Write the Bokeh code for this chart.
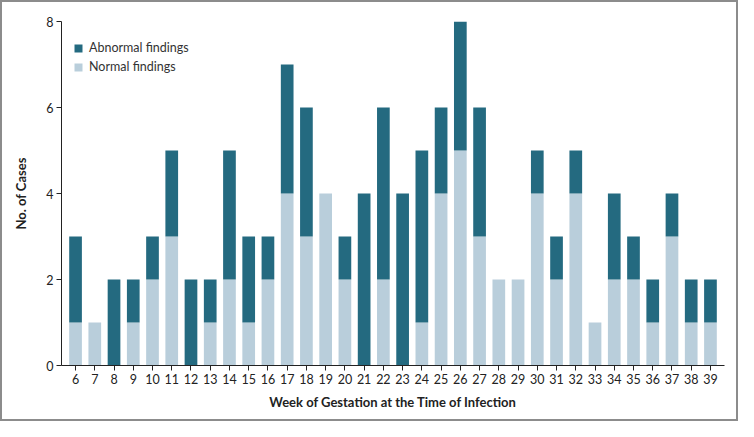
from bokeh.plotting import figure
from bokeh.models import Range1d, FixedTicker, Legend, LegendItem, ColumnDataSource
from bokeh.embed import file_html
from bokeh.resources import INLINE

weeks = list(range(6, 40))
normal = [1, 1, 0, 1, 2, 3, 0, 1, 2, 1, 2, 4, 3, 4, 2, 0, 2, 0, 1, 4, 5, 3, 2, 2, 4, 2, 4, 1, 2, 2, 1, 3, 1, 1]
abnormal = [2, 0, 2, 1, 1, 2, 2, 1, 3, 2, 1, 3, 3, 0, 1, 4, 4, 4, 4, 2, 3, 3, 0, 0, 1, 1, 1, 0, 2, 1, 1, 1, 1, 1]
y_ticks = [0, 2, 4, 6, 8]
series_names = ["Normal findings", "Abnormal findings"]

DARK = "#246a80"
LIGHT = "#b9cedb"
FONT = "Lato"

src = ColumnDataSource(dict(week=weeks, normal=normal, abnormal=abnormal))

p = figure(width=738, height=421, output_backend="svg", toolbar_location=None,
           x_range=Range1d(5.27, 39.73), y_range=Range1d(0, 8),
           min_border_left=59, min_border_right=16, min_border_top=19, min_border_bottom=58)
p.styles = {"border": "2px solid #8c8c8c", "box-sizing": "border-box"}

rs = p.vbar_stack(["normal", "abnormal"], x="week", width=0.66, source=src,
                  color=[LIGHT, DARK], line_color=None)

p.outline_line_color = None
p.xgrid.grid_line_color = None
p.ygrid.grid_line_color = None

p.xaxis.ticker = FixedTicker(ticks=weeks)
p.yaxis.ticker = FixedTicker(ticks=y_ticks)
p.xaxis.minor_tick_line_color = None
p.yaxis.minor_tick_line_color = None
for ax in (p.xaxis, p.yaxis):
    ax.axis_line_color = "#222222"
    ax.major_tick_line_color = "#222222"
    ax.major_tick_out = 5
    ax.major_tick_in = 0
    ax.major_label_text_font = FONT
    ax.major_label_text_font_size = "12.5px"
    ax.major_label_text_color = "#222222"
    ax.axis_label_text_font = FONT
    ax.axis_label_text_font_size = "13px"
    ax.axis_label_text_font_style = "bold"
    ax.axis_label_text_color = "#222222"
    ax.major_label_standoff = 3

p.xaxis.axis_label = "Week of Gestation at the Time of Infection"
p.yaxis.axis_label = "No. of Cases"
p.xaxis.axis_label_standoff = 7
p.yaxis.axis_label_standoff = 14

legend = Legend(items=[LegendItem(label=series_names[1], renderers=[rs[1]]),
                       LegendItem(label=series_names[0], renderers=[rs[0]])],
                location=(12, 289), margin=0, padding=0, spacing=0,
                glyph_width=10, glyph_height=10, label_height=19,
                label_standoff=6, label_text_font=FONT, label_text_font_size="12.5px",
                label_text_color="#333333", border_line_color=None,
                background_fill_alpha=0)
p.add_layout(legend)

open("out.html", "w").write(file_html(p, INLINE))
